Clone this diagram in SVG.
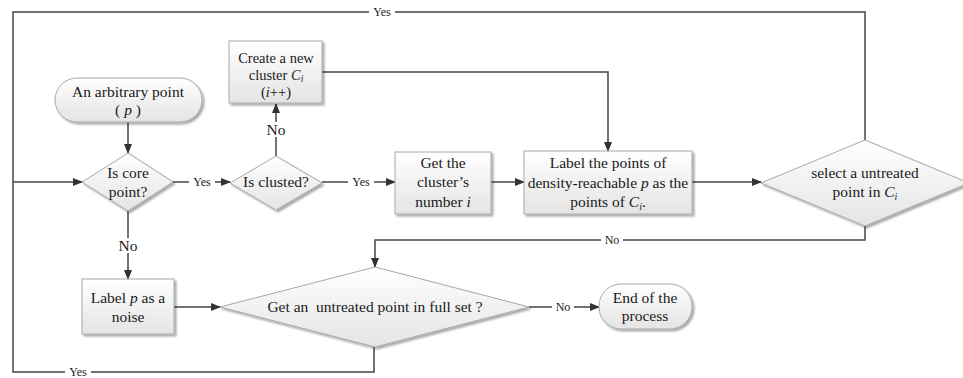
<svg xmlns="http://www.w3.org/2000/svg" width="963" height="378" viewBox="0 0 963 378">
<defs>
<linearGradient id="g" x1="0" y1="0" x2="0" y2="1">
<stop offset="0" stop-color="#ffffff"/>
<stop offset="1" stop-color="#e4e4e4"/>
</linearGradient>
<marker id="arr" markerWidth="10" markerHeight="8" refX="9" refY="4" orient="auto" markerUnits="userSpaceOnUse">
<path d="M0,0 L10,4 L0,8 Z" fill="#333"/>
</marker>
<filter id="sh" x="-10%" y="-10%" width="130%" height="140%">
<feGaussianBlur in="SourceAlpha" stdDeviation="1.2"/>
<feOffset dx="1.5" dy="2" result="b"/>
<feComponentTransfer><feFuncA type="linear" slope="0.35"/></feComponentTransfer>
<feMerge><feMergeNode/><feMergeNode in="SourceGraphic"/></feMerge>
</filter>
</defs>
<style>
.n{fill:url(#g);stroke:#a8a8a8;stroke-width:1;filter:url(#sh)}
.t{font-family:"Liberation Serif","Times New Roman","DejaVu Serif",serif;font-size:15.5px;fill:#1a1a1a;text-anchor:middle}
.s{font-size:14.5px}
.l{font-family:"Liberation Serif","Times New Roman","DejaVu Serif",serif;font-size:12px;fill:#1a1a1a;text-anchor:middle}
.c{fill:none;stroke:#444;stroke-width:1.5}
.a{marker-end:url(#arr)}
.bg{fill:#fff}
</style>
<rect width="963" height="378" fill="#fff"/>

<g id="connectors">
<path class="c" d="M865,140 V12 H13 V372 H374 V347"/>
<path class="c a" d="M13,182 H82"/>
<path class="c a" d="M128,122 V153"/>
<path class="c a" d="M173,182 H230"/>
<path class="c a" d="M276,156 V104"/>
<path class="c a" d="M322,182 H395"/>
<path class="c a" d="M322,72 H608 V151"/>
<path class="c a" d="M491,182 H524"/>
<path class="c a" d="M692,182 H761"/>
<path class="c a" d="M865,226 V240 H375 V267"/>
<path class="c a" d="M128,211 V279"/>
<path class="c a" d="M174,307 H220"/>
<path class="c a" d="M529,307 H599"/>
<rect class="bg" x="369" y="5" width="26" height="13"/>
<text class="l" x="382" y="16">Yes</text>
<rect class="bg" x="189" y="176" width="26" height="13"/>
<text class="l" x="202" y="186">Yes</text>
<rect class="bg" x="348" y="176" width="26" height="13"/>
<text class="l" x="361" y="186">Yes</text>
<rect class="bg" x="266" y="122" width="20" height="15"/>
<text class="t" x="276" y="135">No</text>
<rect class="bg" x="118" y="238" width="20" height="15"/>
<text class="t" x="128" y="251">No</text>
<rect class="bg" x="601" y="233" width="22" height="13"/>
<text class="l" x="612" y="244">No</text>
<rect class="bg" x="552" y="301" width="22" height="13"/>
<text class="l" x="563" y="311">No</text>
<rect class="bg" x="65" y="366" width="26" height="12"/>
<text class="l" x="78" y="376">Yes</text>
</g>

<g id="start">
<rect class="n" x="55" y="78" width="147" height="44" rx="22" ry="22"/>
<text class="t" x="128" y="97">An arbitrary point</text>
<text class="t" x="128" y="115">( <tspan font-style="italic">p</tspan> )</text>
</g>

<g id="core">
<polygon class="n" points="128,153 173,182 128,211 82,182"/>
<text class="t" x="128" y="178">Is core</text>
<text class="t" x="128" y="197">point?</text>
</g>

<g id="clusted">
<polygon class="n" points="276,156 322,183 276,210 230,183"/>
<text class="t" x="276" y="187">Is clusted?</text>
</g>

<g id="create">
<rect class="n" x="229" y="41" width="93" height="62"/>
<text class="t s" x="276" y="63">Create a new</text>
<text class="t s" x="276" y="80">cluster <tspan font-style="italic">C</tspan><tspan font-style="italic" font-size="9.5" dy="2">i</tspan></text>
<text class="t s" x="276" y="97">(<tspan font-style="italic">i</tspan>++)</text>
</g>

<g id="getnum">
<rect class="n" x="395" y="152" width="96" height="62"/>
<text class="t" x="443" y="168">Get the</text>
<text class="t" x="443" y="187">cluster’s</text>
<text class="t" x="443" y="207">number <tspan font-style="italic">i</tspan></text>
</g>

<g id="labelpts">
<rect class="n" x="524" y="151" width="168" height="63"/>
<text class="t" x="608" y="168">Label the points of</text>
<text class="t" x="608" y="188">density-reachable <tspan font-style="italic">p</tspan> as the</text>
<text class="t" x="608" y="207">points of <tspan font-style="italic">C</tspan><tspan font-style="italic" font-size="10" dy="3">i</tspan><tspan dy="-3">.</tspan></text>
</g>

<g id="select">
<polygon class="n" points="865,140 969,183 865,226 761,183"/>
<text class="t" x="865" y="178">select a untreated</text>
<text class="t" x="865" y="197">point in <tspan font-style="italic">C</tspan><tspan font-style="italic" font-size="10" dy="3">i</tspan></text>
</g>

<g id="noise">
<rect class="n" x="82" y="279" width="92" height="55"/>
<text class="t" x="128" y="303">Label <tspan font-style="italic">p</tspan> as a</text>
<text class="t" x="128" y="322">noise</text>
</g>

<g id="getuntreated">
<polygon class="n" points="375,267 529,307 375,347 220,307"/>
<text class="t" x="375" y="312">Get an&#160; untreated point in full set ?</text>
</g>

<g id="end">
<rect class="n" x="599" y="284" width="93" height="45" rx="22" ry="22"/>
<text class="t" x="645" y="303">End of the</text>
<text class="t" x="645" y="321">process</text>
</g>
</svg>
